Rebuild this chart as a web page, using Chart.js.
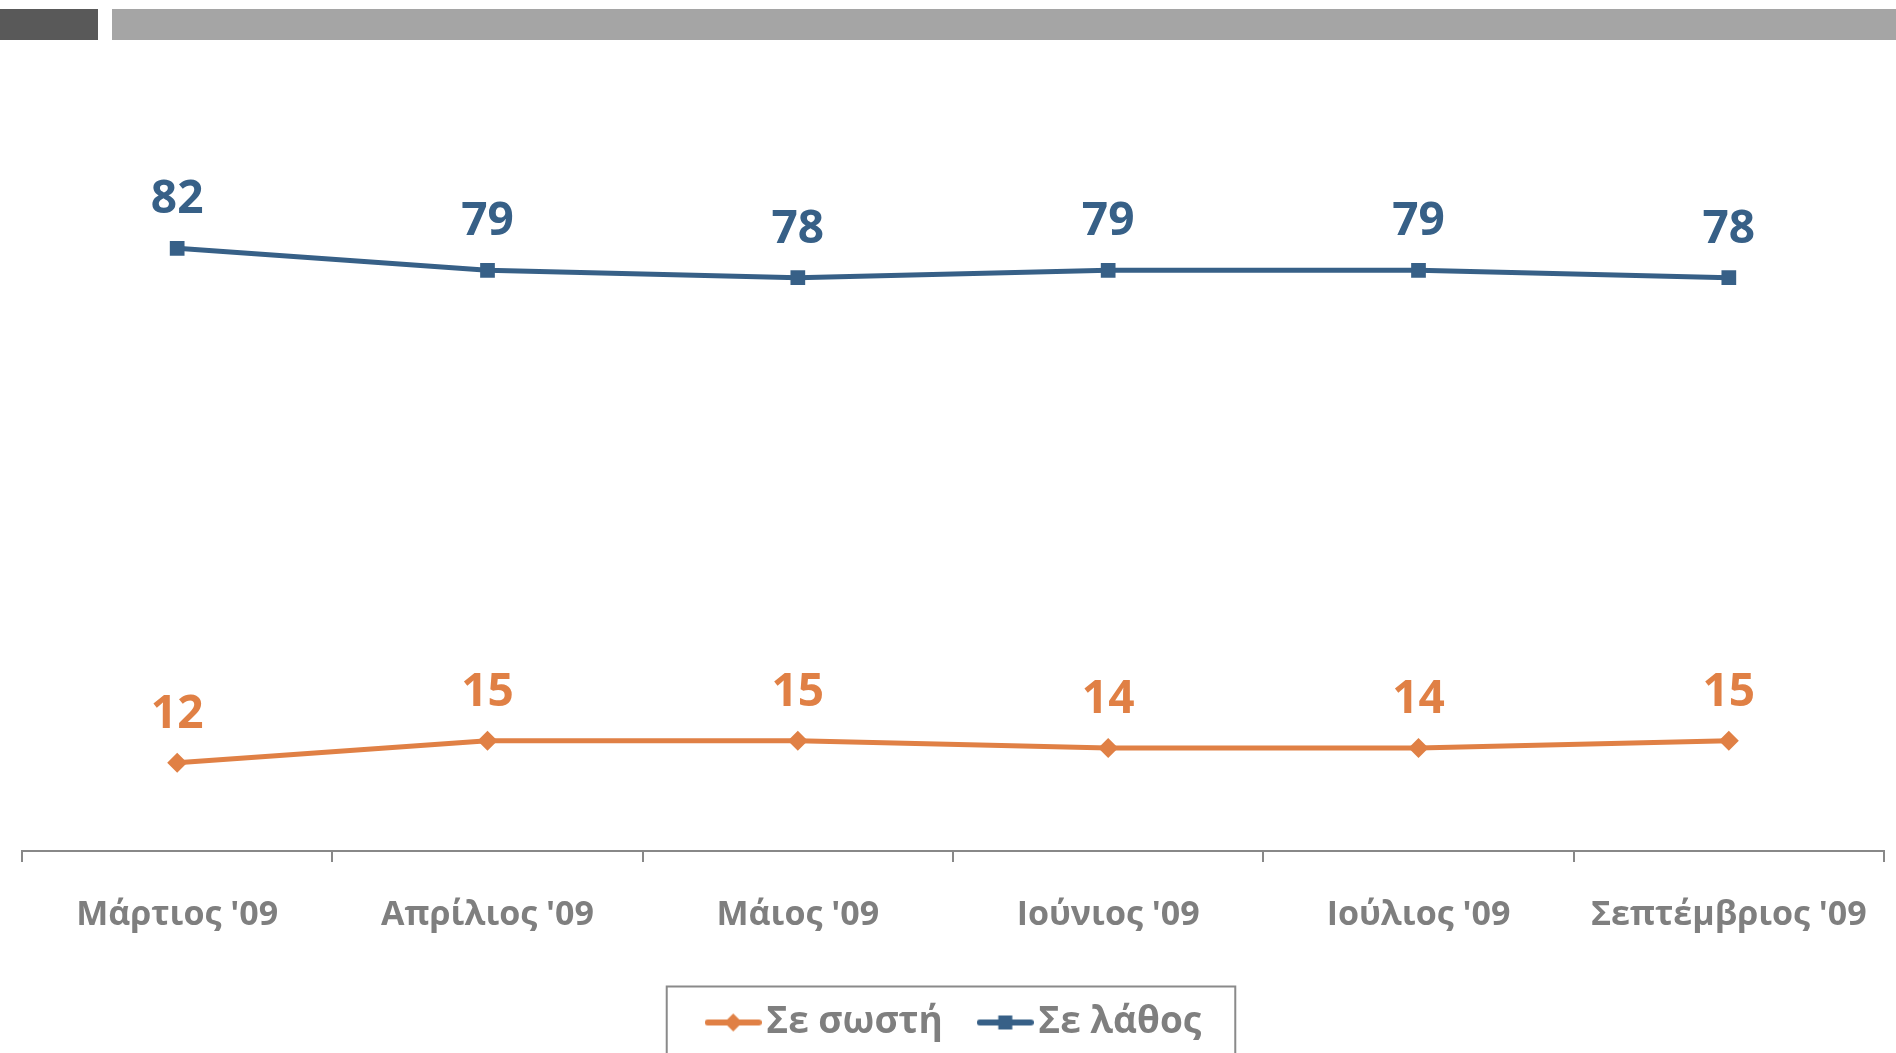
<!DOCTYPE html>
<html>
<head>
<meta charset="utf-8">
<script src="https://cdn.jsdelivr.net/npm/chart.js@4.4.1/dist/chart.umd.min.js"></script>
<style>
  html, body { margin: 0; padding: 0; background: #ffffff; }
  #wrap { width: 1896px; height: 1053px; position: relative; }
</style>
</head>
<body>
<div id="wrap"><canvas id="c" width="1896" height="1053"></canvas></div>
<script>
// ---- data ----
const categories = ["Μάρτιος '09", "Απρίλιος '09", "Μάιος '09", "Ιούνιος '09", "Ιούλιος '09", "Σεπτέμβριος '09"];
const seriesNames = ["Σε σωστή", "Σε λάθος"];
const correctValues = [12, 15, 15, 14, 14, 15];
const wrongValues = [82, 79, 78, 79, 79, 78];

const ORANGE = '#E08045';
const BLUE = '#376087';
const GRAY_TEXT = '#7f7f7f';
const AXIS_GRAY = '#888888';
const FONT = "'Open Sans', 'Noto Sans', sans-serif";

function makeMarker(color, style) {
  const w = 57, h = 22;
  const cv = document.createElement('canvas');
  cv.width = w; cv.height = h;
  const c = cv.getContext('2d');
  c.strokeStyle = color; c.lineWidth = 6; c.lineCap = 'round';
  c.beginPath(); c.moveTo(3, h / 2); c.lineTo(w - 3, h / 2); c.stroke();
  c.fillStyle = color;
  if (style === 'diamond') {
    c.beginPath();
    c.moveTo(w / 2, h / 2 - 9); c.lineTo(w / 2 + 9, h / 2); c.lineTo(w / 2, h / 2 + 9); c.lineTo(w / 2 - 9, h / 2);
    c.closePath(); c.fill();
  } else {
    c.fillRect(w / 2 - 7, h / 2 - 7, 14, 14);
  }
  return cv;
}

const decorPlugin = {
  id: 'decor',
  afterLayout(chart) {
    if (chart.legend) {
      chart.legend.left += 7;
      chart.legend.right += 7;
    }
  },
  beforeDraw(chart) {
    const ctx = chart.ctx;
    ctx.save();
    ctx.fillStyle = '#595959';
    ctx.fillRect(0, 9, 98, 31);
    ctx.fillStyle = '#a5a5a5';
    ctx.fillRect(112, 9, chart.width - 112, 31);
    ctx.restore();
  },
  afterDraw(chart) {
    const lg = chart.legend;
    if (!lg || !lg.legendHitBoxes || !lg.legendHitBoxes.length) return;
    const hb = lg.legendHitBoxes;
    const first = hb[0], last = hb[hb.length - 1];
    const left = first.left - 52;
    const right = last.left + last.width + 34;
    const centerY = first.top + first.height / 2;
    const top = centerY - 36;
    const ctx = chart.ctx;
    ctx.save();
    ctx.strokeStyle = '#8a8a8a';
    ctx.lineWidth = 2;
    ctx.strokeRect(left, top, right - left, 200);
    ctx.restore();
  }
};

const valueLabelPlugin = {
  id: 'valueLabels',
  afterDatasetsDraw(chart) {
    const ctx = chart.ctx;
    ctx.save();
    ctx.font = 'bold 46px ' + FONT;
    ctx.textAlign = 'center';
    ctx.textBaseline = 'alphabetic';
    chart.data.datasets.forEach((ds, di) => {
      const meta = chart.getDatasetMeta(di);
      ctx.fillStyle = ds.borderColor;
      meta.data.forEach((pt, i) => {
        ctx.fillText(String(ds.data[i]), pt.x, pt.y - 35);
      });
    });
    ctx.restore();
  }
};

new Chart(document.getElementById('c'), {
  type: 'line',
  data: {
    labels: categories,
    datasets: [
      {
        label: seriesNames[0],
        data: correctValues,
        borderColor: ORANGE,
        backgroundColor: ORANGE,
        borderWidth: 5,
        pointStyle: 'rectRot',
        pointRadius: 10,
        pointBorderWidth: 0,
        pointBackgroundColor: ORANGE,
        tension: 0,
        legendMarker: makeMarker(ORANGE, 'diamond')
      },
      {
        label: seriesNames[1],
        data: wrongValues,
        borderColor: BLUE,
        backgroundColor: BLUE,
        borderWidth: 5,
        pointStyle: 'rect',
        pointRadius: 10.4,
        pointBorderWidth: 0,
        pointBackgroundColor: BLUE,
        tension: 0,
        legendMarker: makeMarker(BLUE, 'square')
      }
    ]
  },
  options: {
    responsive: false,
    animation: false,
    layout: { padding: { top: 116, left: 22, right: 12, bottom: 2 } },
    plugins: {
      tooltip: { enabled: false },
      legend: {
        display: true,
        position: 'bottom',
        labels: {
          usePointStyle: true,
          pointStyleWidth: 29,
          padding: 48,
          color: GRAY_TEXT,
          font: { family: FONT, size: 37, weight: 'bold' },
          generateLabels(chart) {
            return chart.data.datasets.map((ds, i) => ({
              text: ds.label,
              fillStyle: ds.borderColor,
              strokeStyle: ds.borderColor,
              fontColor: GRAY_TEXT,
              lineWidth: 0,
              pointStyle: ds.legendMarker,
              hidden: false,
              datasetIndex: i
            }));
          }
        }
      }
    },
    scales: {
      x: {
        offset: true,
        grid: {
          display: true,
          offset: true,
          drawOnChartArea: false,
          drawTicks: true,
          tickLength: 11,
          color: AXIS_GRAY,
          lineWidth: 2
        },
        border: { display: true, color: AXIS_GRAY, width: 2 },
        ticks: {
          color: GRAY_TEXT,
          padding: 0,
          maxRotation: 0,
          autoSkip: false,
          font: { family: FONT, size: 34, weight: 'bold', lineHeight: '107px' }
        },
        afterFit(scale) { scale.height = 105; }
      },
      y: {
        display: false,
        min: 0,
        max: 100
      }
    }
  },
  plugins: [decorPlugin, valueLabelPlugin]
});
</script>
</body>
</html>
